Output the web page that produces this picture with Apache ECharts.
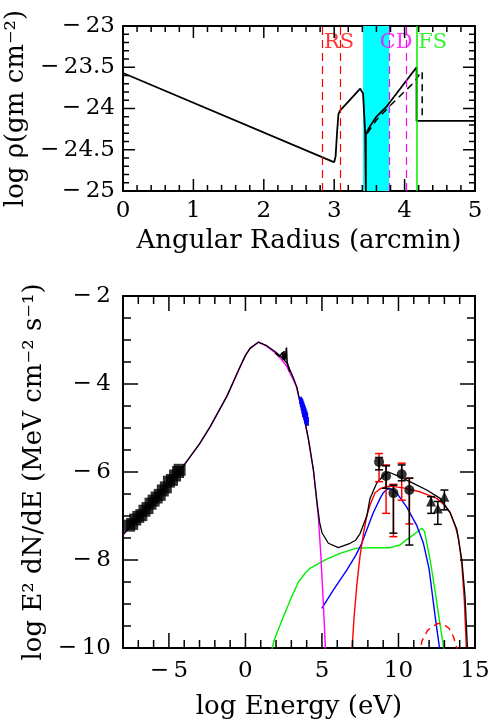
<!DOCTYPE html>
<html>
<head>
<meta charset="utf-8">
<title>Density profile and broadband spectrum</title>
<script src="https://cdn.jsdelivr.net/npm/echarts@6/dist/echarts.min.js"></script>
<style>
    html, body { margin: 0; padding: 0; background: #fff; }
    #chart { width: 489px; height: 719px; }
</style>
</head>
<body>
<div id="chart"></div>
<script>
'use strict';

// ---------- top panel: density vs angular radius ----------
var densitySolid = [[0, -23.57], [2.97, -24.64], [3.0, -24.65], [3.02, -24.58], [3.04, -24.3], [3.06, -24.07],
    [3.08, -24.03], [3.37, -23.76], [3.41, -23.82], [3.44, -24.3], [3.45, -25], [3.45, -24.32], [3.48, -24.26],
    [3.52, -24.2], [3.6, -24.1], [3.75, -23.97], [4.17, -23.5], [4.17, -24.15], [5, -24.15]];
var densityDashed = [[3.47, -24.3], [3.6, -24.14], [3.8, -23.96], [4.15, -23.67], [4.22, -23.57], [4.25, -23.55], [4.25, -24.15]];
var rsLines = [2.83, 3.08];
var cdLines = [3.78, 4.02];
var fsLine = 4.17;
var shellBand = [3.41, 3.78];
var shockNames = ['RS', 'CD', 'FS'];
var shockLabelX = [3.07, 3.88, 4.4];
var shockLabelY = -23.2;
var shockColors = ['#ff0000', '#ff00ff', '#00ee00'];

// ---------- bottom panel: spectral energy distribution ----------
var syncModel = [[-8, -7.43], [-7, -7.03], [-6, -6.63], [-5, -6.24], [-4, -5.84], [-3, -5.36], [-2.3, -4.97],
    [-1.2, -4.27], [-0.35, -3.61], [0.0, -3.35], [0.3, -3.19], [0.84, -3.05], [1.39, -3.14], [1.93, -3.29],
    [2.3, -3.42], [2.7, -3.6], [3.13, -3.91], [3.35, -4.08], [3.57, -4.42], [3.78, -4.68], [4.11, -5.24],
    [4.44, -5.95], [4.55, -6.3], [4.77, -7.05], [4.92, -7.85], [5.09, -8.98], [5.25, -10.2]];
var totalModel = [[-8, -7.43], [-7, -7.03], [-6, -6.63], [-5, -6.24], [-4, -5.84], [-3, -5.36], [-2.3, -4.97],
    [-1.2, -4.27], [-0.35, -3.61], [0.0, -3.35], [0.3, -3.19], [0.84, -3.05], [1.39, -3.13], [1.93, -3.26],
    [2.3, -3.37], [2.7, -3.52], [3.13, -3.86], [3.35, -4.06], [3.57, -4.42], [3.78, -4.68], [4.11, -5.24],
    [4.44, -5.95], [4.55, -6.3], [4.7, -6.75], [4.85, -7.15], [5.0, -7.38], [5.42, -7.62], [6.07, -7.72],
    [6.84, -7.62], [7.2, -7.55], [7.49, -7.4], [7.93, -7.0], [8.14, -6.6], [8.58, -6.25], [9.1, -6.05],
    [9.35, -6.0], [10.1, -6.11], [10.97, -6.26], [11.85, -6.41], [12.72, -6.6], [13.37, -6.92], [13.81, -7.3],
    [14.14, -8.0], [14.35, -8.83], [14.5, -9.97], [14.53, -10.3]];
var pionModel = [[6.93, -10.2], [7.1, -9.3], [7.27, -8.6], [7.49, -7.9], [7.71, -7.4], [7.93, -7.0], [8.14, -6.75],
    [8.47, -6.47], [8.8, -6.38], [9.23, -6.33], [9.45, -6.32], [10.32, -6.36], [11.41, -6.45], [12.5, -6.6],
    [12.94, -6.73], [13.37, -6.92], [13.7, -7.22], [13.92, -7.5], [14.14, -8.1], [14.3, -8.9], [14.46, -10.2]];
var icModel = [[4.99, -9.1], [5.75, -8.68], [6.62, -8.23], [7.2, -7.9], [7.6, -7.62], [8.14, -7.12], [8.36, -6.92],
    [8.8, -6.6], [9.01, -6.47], [9.23, -6.4], [9.45, -6.38], [9.6, -6.4], [9.89, -6.48], [10.54, -6.8],
    [11.2, -7.22], [11.63, -7.62], [12.0, -8.2], [12.39, -9.27], [12.72, -10.1]];
var bremModel = [[1.6, -10.2], [1.9, -9.8], [2.48, -9.29], [3.0, -8.85], [3.46, -8.5], [3.9, -8.3], [4.22, -8.19],
    [5.31, -7.98], [6.18, -7.85], [7.27, -7.73], [8.36, -7.72], [9.45, -7.72], [10.1, -7.66], [10.6, -7.52],
    [10.97, -7.43], [11.52, -7.28], [11.7, -7.35], [12.07, -8.0], [12.39, -8.7], [12.63, -9.27], [13.0, -10.1]];
var pionSecondary = [[11.4, -10.2], [11.52, -9.85], [11.9, -9.6], [12.28, -9.5], [12.6, -9.44], [12.94, -9.46],
    [13.3, -9.55], [13.6, -9.75], [13.81, -10.0], [13.85, -10.2]];
var energyMajor = [-5, 0, 5, 10, 15];

// radio points (squares)
var radioX = [-7.6, -7.4, -7.2, -7.0, -6.8, -6.6, -6.4, -6.2, -6.0, -5.8, -5.6, -5.4, -5.2, -5.0, -4.8, -4.6, -4.4, -4.3];
var radioY = [-7.22, -7.18, -7.08, -7.02, -6.98, -6.88, -6.82, -6.72, -6.65, -6.58, -6.52, -6.42, -6.35, -6.22, -6.18, -6.08, -6.0, -5.95];
// optical/UV spectrum (black jagged line)
var opticalX = [1.95, 2.1, 2.25, 2.35, 2.42, 2.46, 2.52, 2.56, 2.62, 2.68, 2.72, 2.76, 2.82, 2.9];
var opticalY = [-3.3, -3.34, -3.37, -3.4, -3.28, -3.44, -3.25, -3.46, -3.38, -3.17, -3.5, -3.55, -3.62, -3.72];
// X-ray points (blue)
var xrayX = [3.6, 3.65, 3.7, 3.75, 3.8, 3.85, 3.9, 3.95, 4.0, 4.05];
var xrayLow = [-4.45, -4.52, -4.6, -4.68, -4.75, -4.8, -4.85, -4.9, -4.92, -4.95];
var xrayHigh = [-4.29, -4.32, -4.35, -4.4, -4.45, -4.5, -4.55, -4.6, -4.65, -4.75];
// GeV points (circles) with two kinds of error bars
var gevX = [8.73, 9.19, 9.67, 10.21, 10.71];
var gevY = [-5.77, -6.09, -6.48, -6.05, -6.41];
var gevRedLow = [-6.22, -6.94, -7.47, -6.64, -7.18];
var gevRedHigh = [-5.58, -5.84, -6.28, -5.8, -6.14];
var gevBlackLow = [-5.95, -6.37, -7.39, -6.2, -7.66];
var gevBlackHigh = [-5.67, -5.86, -6.3, -5.84, -6.14];
// TeV points (triangles)
var tevX = [12.13, 12.57, 13.0];
var tevY = [-6.67, -6.83, -6.56];
var tevLow = [-6.94, -7.19, -6.86];
var tevHigh = [-6.56, -6.67, -6.41];

var FONT = 'DejaVu Serif';

function minus(v) {
    return String(v).replace('-', '\u2212\u2009');
}

function zip(xs, ys) {
    return xs.map(function (x, i) { return [x, ys[i]]; });
}

function zip3(xs, lo, hi) {
    return xs.map(function (x, i) { return [x, lo[i], hi[i]]; });
}

// axis tick positions between min and max
function range(a, b, step) {
    var out = [];
    for (var i = 0; a + i * step <= b + 1e-9; i++) {
        out.push(+(a + i * step).toFixed(4));
    }
    return out;
}

function isMultiple(v, m) {
    return Math.abs(v / m - Math.round(v / m)) < 1e-6;
}

/**
 * error bar renderer (vertical bar with caps)
 */
function errorBars(color, capHalf, width) {
    return function (params, api) {
        var x = api.value(0);
        var p1 = api.coord([x, api.value(1)]);
        var p2 = api.coord([x, api.value(2)]);
        var st = { stroke: color, lineWidth: width };
        var children = [{ type: 'line', shape: { x1: p1[0], y1: p1[1], x2: p2[0], y2: p2[1] }, style: st }];
        if (capHalf > 0) {
            children.push({ type: 'line', shape: { x1: p1[0] - capHalf, y1: p1[1], x2: p1[0] + capHalf, y2: p1[1] }, style: st });
            children.push({ type: 'line', shape: { x1: p2[0] - capHalf, y1: p2[1], x2: p2[0] + capHalf, y2: p2[1] }, style: st });
        }
        return { type: 'group', children: children };
    };
}

function axisLine() {
    return { show: true, onZero: false, lineStyle: { color: '#000', width: 2 } };
}
function labelStyle(margin) {
    return { show: true, margin: margin, color: '#000', fontFamily: FONT, fontSize: 23, formatter: minus };
}
var nameStyle = { color: '#000', fontFamily: FONT, fontSize: 26 };
var noTick = { show: false };

var chart = echarts.init(document.getElementById('chart'));

// grid 2 sits exactly on grid 1 and only carries the energy labels
var option = {
    animation: false,
    grid: [
        { left: 123, top: 26, width: 352, height: 165, outerBoundsMode: 'none' },
        { left: 123, top: 296, width: 352, height: 352, outerBoundsMode: 'none' },
        { left: 123, top: 296, width: 352, height: 352, outerBoundsMode: 'none' }
    ],
    xAxis: [
        {
            type: 'value', gridIndex: 0, position: 'bottom', min: 0, max: 5, interval: 1,
            axisLine: axisLine(), axisTick: noTick, minorTick: noTick, splitLine: { show: false },
            axisLabel: labelStyle(9),
            name: 'Angular Radius (arcmin)', nameLocation: 'middle', nameGap: 37, nameTextStyle: nameStyle
        },
        {
            type: 'value', gridIndex: 0, position: 'top', min: 0, max: 5, interval: 1,
            axisLine: axisLine(), axisTick: noTick, splitLine: { show: false }, axisLabel: { show: false }
        },
        {
            type: 'value', gridIndex: 1, position: 'bottom', min: -8, max: 15, interval: 1,
            axisLine: axisLine(), axisTick: noTick, splitLine: { show: false }, axisLabel: { show: false }
        },
        {
            type: 'value', gridIndex: 1, position: 'top', min: -8, max: 15, interval: 1,
            axisLine: axisLine(), axisTick: noTick, splitLine: { show: false }, axisLabel: { show: false }
        },
        {
            type: 'value', gridIndex: 2, position: 'bottom', min: -8, max: 15,
            axisLine: { show: false }, axisTick: noTick,
            axisLabel: Object.assign(labelStyle(12), { customValues: energyMajor }), splitLine: { show: false },
            name: 'log Energy (eV)', nameLocation: 'middle', nameGap: 46, nameTextStyle: nameStyle
        }
    ],
    yAxis: [
        {
            type: 'value', gridIndex: 0, position: 'left', min: -25, max: -23, interval: 0.5,
            axisLine: axisLine(), axisTick: noTick, minorTick: noTick, splitLine: { show: false },
            axisLabel: labelStyle(8),
            name: 'log \u03c1(gm cm\u207b\u00b2)', nameLocation: 'middle', nameGap: 88, nameTextStyle: nameStyle
        },
        {
            type: 'value', gridIndex: 0, position: 'right', min: -25, max: -23, interval: 0.5,
            axisLine: axisLine(), axisTick: noTick, splitLine: { show: false }, axisLabel: { show: false }
        },
        {
            type: 'value', gridIndex: 1, position: 'left', min: -10, max: -2, interval: 2,
            axisLine: axisLine(), axisTick: noTick, minorTick: noTick, splitLine: { show: false },
            axisLabel: labelStyle(12),
            name: 'log E\u00b2 dN/dE (MeV cm\u207b\u00b2 s\u207b\u00b9)', nameLocation: 'middle', nameGap: 64,
            nameTextStyle: nameStyle
        },
        {
            type: 'value', gridIndex: 1, position: 'right', min: -10, max: -2, interval: 2,
            axisLine: axisLine(), axisTick: noTick, splitLine: { show: false }, axisLabel: { show: false }
        },
        {
            type: 'value', gridIndex: 2, min: -10, max: -2, show: false
        }
    ],
    series: []
};

function lineSeries(data, xi, yi, color, width, type, z) {
    return {
        type: 'line', xAxisIndex: xi, yAxisIndex: yi, data: data, symbol: 'none', clip: true,
        lineStyle: { color: color, width: width, type: type || 'solid' }, z: z || 2, silent: true
    };
}

// shell band and shock positions (top panel)
option.series.push({
    type: 'line', xAxisIndex: 0, yAxisIndex: 0, data: [], z: 1, silent: true,
    markArea: { silent: true, itemStyle: { color: '#00ffff', opacity: 1 }, data: [[{ xAxis: shellBand[0] }, { xAxis: shellBand[1] }]] },
    markLine: {
        silent: true, symbol: 'none', label: { show: false },
        data: rsLines.map(function (x) { return { xAxis: x, lineStyle: { color: '#ff0000', type: [8, 5], width: 1.2 } }; })
            .concat(cdLines.map(function (x) { return { xAxis: x, lineStyle: { color: '#ff00ff', type: [8, 5], width: 1.2 } }; }))
            .concat([{ xAxis: fsLine, lineStyle: { color: '#00ee00', type: 'solid', width: 1.5 } }])
    }
});
option.series.push(lineSeries(densitySolid, 0, 0, '#000', 1.8, 'solid', 3));
option.series.push(lineSeries(densityDashed, 0, 0, '#000', 1.5, [7, 5], 3));
option.series.push({
    type: 'scatter', xAxisIndex: 0, yAxisIndex: 0, symbolSize: 1, itemStyle: { color: 'transparent' }, z: 4, silent: true,
    data: shockNames.map(function (n, i) {
        return { name: n, value: [shockLabelX[i], shockLabelY], label: { color: shockColors[i] } };
    }),
    label: { show: true, position: 'inside', formatter: '{b}', fontFamily: FONT, fontSize: 21 }
});

// bottom panel
option.series.push({
    type: 'scatter', xAxisIndex: 2, yAxisIndex: 2, data: zip(radioX, radioY), symbol: 'rect', symbolSize: 12,
    itemStyle: { color: '#000' }, z: 2, silent: true
});
option.series.push(lineSeries(bremModel, 2, 2, '#00ee00', 1.4));
option.series.push(lineSeries(icModel, 2, 2, '#0000ff', 1.4));
option.series.push(lineSeries(pionModel, 2, 2, '#ff0000', 1.4));
option.series.push(lineSeries(pionSecondary, 2, 2, '#ff0000', 1.4, [7, 5]));
option.series.push(lineSeries(syncModel, 2, 2, '#ff00ff', 1.4));
option.series.push(lineSeries(totalModel, 2, 2, '#000', 1.3, 'solid', 3));
option.series.push(lineSeries(zip(opticalX, opticalY), 2, 2, '#000', 1.6, 'solid', 3));
option.series.push({
    type: 'custom', xAxisIndex: 2, yAxisIndex: 2, data: zip3(xrayX, xrayLow, xrayHigh), z: 4, silent: true,
    renderItem: errorBars('#0000ff', 0, 3)
});
option.series.push({
    type: 'custom', xAxisIndex: 2, yAxisIndex: 2, data: zip3(gevX, gevRedLow, gevRedHigh), z: 4, silent: true,
    renderItem: errorBars('#ff0000', 4, 1.5)
});
option.series.push({
    type: 'custom', xAxisIndex: 2, yAxisIndex: 2, data: zip3(gevX, gevBlackLow, gevBlackHigh), z: 4, silent: true,
    renderItem: errorBars('#000', 4, 1.5)
});
option.series.push({
    type: 'custom', xAxisIndex: 2, yAxisIndex: 2, data: zip3(tevX, tevLow, tevHigh), z: 4, silent: true,
    renderItem: errorBars('#000', 4, 1.5)
});
option.series.push({
    type: 'scatter', xAxisIndex: 2, yAxisIndex: 2, data: zip(gevX, gevY), symbol: 'circle', symbolSize: 10,
    itemStyle: { color: '#000' }, z: 5, silent: true
});
option.series.push({
    type: 'scatter', xAxisIndex: 2, yAxisIndex: 2, data: zip(tevX, tevY), symbol: 'triangle', symbolSize: 10,
    itemStyle: { color: '#000' }, z: 5, silent: true
});

chart.setOption(option);

/**
 * inward frame ticks, placed through the axes with convertToPixel
 */
function frameTicks(xi, yi, xr, yr, xTicks, xMajor, yTicks, yMajor, longLen, shortLen) {
    var finder = { xAxisIndex: xi, yAxisIndex: yi };
    var st = { stroke: '#000', lineWidth: 1.5 };
    var els = [];
    function seg(x1, y1, x2, y2) {
        els.push({ type: 'line', z: 100, silent: true, shape: { x1: x1, y1: y1, x2: x2, y2: y2 }, style: st });
    }
    xTicks.forEach(function (v) {
        var len = isMultiple(v, xMajor) ? longLen : shortLen;
        var b = chart.convertToPixel(finder, [v, yr[0]]);
        var t = chart.convertToPixel(finder, [v, yr[1]]);
        seg(b[0], b[1], b[0], b[1] - len);
        seg(t[0], t[1], t[0], t[1] + len);
    });
    yTicks.forEach(function (v) {
        var len = isMultiple(v, yMajor) ? longLen : shortLen;
        var l = chart.convertToPixel(finder, [xr[0], v]);
        var r = chart.convertToPixel(finder, [xr[1], v]);
        seg(l[0], l[1], l[0] + len, l[1]);
        seg(r[0], r[1], r[0] - len, r[1]);
    });
    return els;
}

var tickEls = frameTicks(0, 0, [0, 5], [-25, -23], range(0, 5, 0.2), 1, range(-25, -23, 0.1), 0.5, 12, 6)
    .concat(frameTicks(2, 2, [-8, 15], [-10, -2], range(-8, 15, 1), 5, range(-10, -2, 0.5), 2, 15, 8));

chart.setOption({ graphic: { elements: tickEls } });
</script>
</body>
</html>
